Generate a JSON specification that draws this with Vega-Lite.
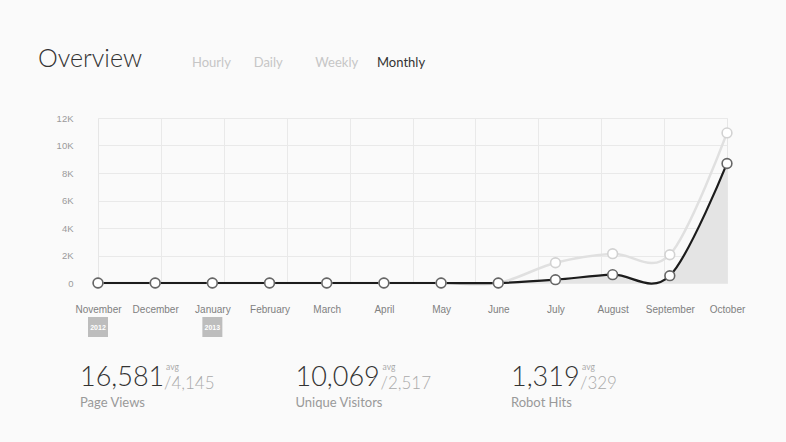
{
  "$schema": "https://vega.github.io/schema/vega-lite/v6.json",
  "width": 629,
  "height": 165,
  "autosize": {"type": "none"},
  "padding": {"left": 98, "top": 118, "right": 59, "bottom": 159},
  "background": "#fafafa",
  "config": {
    "view": {"stroke": "#e6e6e6", "strokeWidth": 1},
    "font": "Lato",
    "text": {"font": "Lato"}
  },
  "title": {
    "text": "Overview",
    "anchor": "start",
    "frame": "group",
    "dx": -60,
    "offset": -35,
    "baseline": "alphabetic",
    "fontSize": 25,
    "fontWeight": 300,
    "font": "Lato",
    "color": "#333333"
  },
  "datasets": {
    "traffic": [
      {"month": "November", "i": 0, "series": "Page Views", "value": 0},
      {"month": "December", "i": 1, "series": "Page Views", "value": 0},
      {"month": "January", "i": 2, "series": "Page Views", "value": 0},
      {"month": "February", "i": 3, "series": "Page Views", "value": 0},
      {"month": "March", "i": 4, "series": "Page Views", "value": 0},
      {"month": "April", "i": 5, "series": "Page Views", "value": 0},
      {"month": "May", "i": 6, "series": "Page Views", "value": 0},
      {"month": "June", "i": 7, "series": "Page Views", "value": 0},
      {"month": "July", "i": 8, "series": "Page Views", "value": 1476},
      {"month": "August", "i": 9, "series": "Page Views", "value": 2131},
      {"month": "September", "i": 10, "series": "Page Views", "value": 2058},
      {"month": "October", "i": 11, "series": "Page Views", "value": 10916},
      {"month": "November", "i": 0, "series": "Unique Visitors", "value": 0},
      {"month": "December", "i": 1, "series": "Unique Visitors", "value": 0},
      {"month": "January", "i": 2, "series": "Unique Visitors", "value": 0},
      {"month": "February", "i": 3, "series": "Unique Visitors", "value": 0},
      {"month": "March", "i": 4, "series": "Unique Visitors", "value": 0},
      {"month": "April", "i": 5, "series": "Unique Visitors", "value": 0},
      {"month": "May", "i": 6, "series": "Unique Visitors", "value": 0},
      {"month": "June", "i": 7, "series": "Unique Visitors", "value": 0},
      {"month": "July", "i": 8, "series": "Unique Visitors", "value": 240},
      {"month": "August", "i": 9, "series": "Unique Visitors", "value": 604},
      {"month": "September", "i": 10, "series": "Unique Visitors", "value": 531},
      {"month": "October", "i": 11, "series": "Unique Visitors", "value": 8694}
    ],
    "years": [
      {"i": 0, "year": "2012"},
      {"i": 2, "year": "2013"}
    ],
    "tabs": [
      {"tab": "Hourly"},
      {"tab": "Daily"},
      {"tab": "Weekly"},
      {"tab": "Monthly"}
    ],
    "stats": [
      {"label": "Page Views", "total": 16581, "avg": 4145},
      {"label": "Unique Visitors", "total": 10069, "avg": 2517},
      {"label": "Robot Hits", "total": 1319, "avg": 329}
    ]
  },
  "layer": [
    {
      "data": {"name": "traffic"},
      "encoding": {
        "x": {"field": "i", "type": "quantitative", "scale": {"domain": [0, 11], "nice": false, "zero": false}, "axis": null},
        "y": {
          "field": "value",
          "type": "quantitative",
          "scale": {"domain": [0, 12000], "nice": false},
          "axis": {
            "values": [0, 2000, 4000, 6000, 8000, 10000, 12000],
            "labelExpr": "datum.value == 0 ? '0' : (datum.value / 1000) + 'K'",
            "grid": true,
            "gridColor": "#e9e9e9",
            "ticks": false,
            "domain": false,
            "labelPadding": 25,
            "labelColor": "#9a9a9a",
            "labelFontSize": 9.5,
            "labelFont": "Liberation Sans",
            "title": null
          }
        }
      },
      "resolve": {"axis": {"x": "independent"}},
      "layer": [
        {
          "transform": [{"filter": "datum.series == 'Unique Visitors'"}],
          "mark": {"type": "area", "interpolate": "cardinal", "color": "#e4e4e4", "opacity": 1},
          "encoding": {
            "x": {
              "field": "i", "type": "quantitative",
              "scale": {"domain": [0, 11], "nice": false, "zero": false},
              "axis": {
                "orient": "bottom",
                "values": [1.1, 2.2, 3.3, 4.4, 5.5, 6.6, 7.7, 8.8, 9.9],
                "grid": true, "gridColor": "#e9e9e9",
                "labels": false, "ticks": false, "domain": false, "title": null
              }
            }
          }
        },
        {
          "transform": [{"filter": "datum.series == 'Page Views'"}],
          "mark": {"type": "line", "interpolate": "cardinal", "color": "#e0e0e0", "strokeWidth": 2.5}
        },
        {
          "transform": [{"filter": "datum.series == 'Unique Visitors'"}],
          "mark": {"type": "line", "interpolate": "cardinal", "color": "#1c1c1c", "strokeWidth": 2.2},
          "encoding": {
            "x": {
              "field": "i", "type": "quantitative",
              "scale": {"domain": [0, 11], "nice": false, "zero": false},
              "axis": {
                "orient": "bottom",
                "values": [0, 1, 2, 3, 4, 5, 6, 7, 8, 9, 10, 11],
                "labelExpr": "['November','December','January','February','March','April','May','June','July','August','September','October'][datum.value]",
                "grid": false, "ticks": false, "domain": false, "title": null,
                "labelPadding": 21, "labelColor": "#808080", "labelFontSize": 10,
                "labelFont": "Liberation Sans", "labelOverlap": false, "labelFlush": false, "labelAlign": "center"
              }
            }
          }
        },
        {
          "mark": {"type": "point", "shape": "circle", "fill": "#ffffff", "filled": false, "size": 95, "strokeWidth": 1.6, "opacity": 1},
          "encoding": {
            "stroke": {
              "field": "series", "type": "nominal",
              "scale": {"domain": ["Page Views", "Unique Visitors"], "range": ["#d2d2d2", "#666666"]},
              "legend": null
            }
          }
        }
      ]
    },
    {
      "data": {"name": "years"},
      "encoding": {
        "x": {"field": "i", "type": "quantitative", "scale": {"domain": [0, 11], "nice": false, "zero": false}, "axis": null}
      },
      "layer": [
        {
          "mark": {"type": "square", "shape": "M-1.1,-0.5L1.1,-0.5L1.1,0.5L-1.1,0.5Z", "size": 400, "color": "#bdbdbd", "filled": true, "opacity": 1},
          "encoding": {"y": {"value": 209}}
        },
        {
          "mark": {"type": "text", "color": "#ffffff", "fontSize": 7, "fontWeight": "bold", "font": "Liberation Sans", "baseline": "middle"},
          "encoding": {"y": {"value": 209.5}, "text": {"field": "year"}}
        }
      ]
    },
    {
      "data": {"name": "tabs"},
      "mark": {"type": "text", "align": "left", "baseline": "alphabetic", "fontSize": 13, "font": "Lato"},
      "encoding": {
        "x": {"field": "tab", "type": "nominal", "sort": null, "scale": {"type": "point", "range": [94, 279], "padding": 0}, "axis": null},
        "y": {"value": -51},
        "text": {"field": "tab"},
        "color": {"condition": {"test": "datum.tab == 'Monthly'", "value": "#333333"}, "value": "#c6c6c6"}
      }
    },
    {
      "data": {"name": "stats"},
      "encoding": {
        "x": {"field": "label", "type": "nominal", "sort": null, "scale": {"type": "point", "range": [-18, 413], "padding": 0}, "axis": null}
      },
      "layer": [
        {
          "mark": {"type": "text", "align": "left", "baseline": "alphabetic", "fontSize": 27, "fontWeight": 300, "color": "#333333", "font": "Lato"},
          "encoding": {"y": {"value": 268}, "text": {"field": "total", "type": "quantitative", "format": ","}}
        },
        {
          "mark": {"type": "text", "align": "left", "baseline": "alphabetic", "fontSize": 13, "color": "#999999", "font": "Lato"},
          "encoding": {"y": {"value": 289}, "text": {"field": "label"}}
        },
        {
          "mark": {"type": "text", "align": "left", "baseline": "alphabetic", "fontSize": 8.5, "color": "#aaaaaa", "font": "Lato", "text": "avg",
            "dx": {"expr": "datum.label == 'Page Views' ? 86 : datum.label == 'Unique Visitors' ? 87 : 71"}},
          "encoding": {"y": {"value": 252}}
        },
        {
          "mark": {"type": "text", "align": "left", "baseline": "alphabetic", "fontSize": 17, "fontWeight": 300, "color": "#aaaaaa", "font": "Lato",
            "text": {"expr": "'/' + format(datum.avg, ',')"},
            "dx": {"expr": "datum.label == 'Page Views' ? 84 : datum.label == 'Unique Visitors' ? 85 : 69"}},
          "encoding": {"y": {"value": 271}}
        }
      ]
    }
  ],
  "resolve": {"scale": {"x": "independent"}}
}
